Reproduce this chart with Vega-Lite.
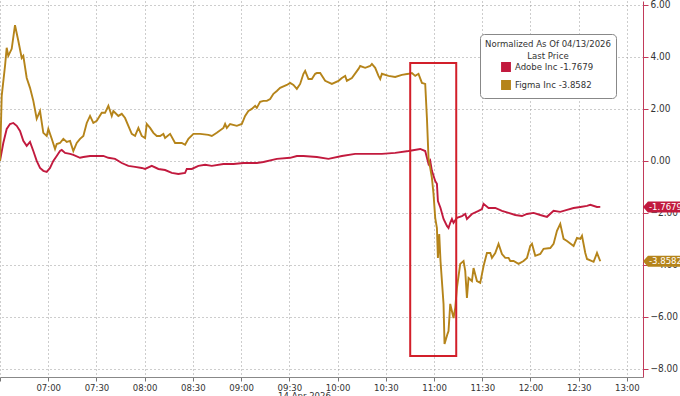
{
"width": 643,
"height": 376,
"autosize": "none",
"padding": {"left": 0, "top": 1, "right": 37, "bottom": 19},
"config": {"view": {"stroke": null}, "font": "DejaVu Sans Condensed, Liberation Sans Narrow, Liberation Sans, sans-serif"},
"data": {"format": {"parse": {"t": "date:'%H:%M:%S'"}}, "values": [
{"s":"Adobe Inc","t":"06:30:00","v":0},
{"s":"Adobe Inc","t":"06:32:03","v":0.69},
{"s":"Adobe Inc","t":"06:34:10","v":1.23},
{"s":"Adobe Inc","t":"06:36:13","v":1.42},
{"s":"Adobe Inc","t":"06:38:17","v":1.46},
{"s":"Adobe Inc","t":"06:40:24","v":1.35},
{"s":"Adobe Inc","t":"06:42:27","v":1.15},
{"s":"Adobe Inc","t":"06:44:30","v":0.77},
{"s":"Adobe Inc","t":"06:46:37","v":0.58},
{"s":"Adobe Inc","t":"06:48:40","v":0.73},
{"s":"Adobe Inc","t":"06:50:44","v":0.38},
{"s":"Adobe Inc","t":"06:52:50","v":0.00},
{"s":"Adobe Inc","t":"06:54:54","v":-0.27},
{"s":"Adobe Inc","t":"06:56:57","v":-0.38},
{"s":"Adobe Inc","t":"06:59:04","v":-0.42},
{"s":"Adobe Inc","t":"07:01:07","v":-0.27},
{"s":"Adobe Inc","t":"07:03:10","v":0.00},
{"s":"Adobe Inc","t":"07:05:17","v":0.19},
{"s":"Adobe Inc","t":"07:07:20","v":0.38},
{"s":"Adobe Inc","t":"07:08:24","v":0.42},
{"s":"Adobe Inc","t":"07:10:28","v":0.31},
{"s":"Adobe Inc","t":"07:13:34","v":0.27},
{"s":"Adobe Inc","t":"07:15:37","v":0.23},
{"s":"Adobe Inc","t":"07:19:47","v":0.12},
{"s":"Adobe Inc","t":"07:21:51","v":0.15},
{"s":"Adobe Inc","t":"07:26:01","v":0.19},
{"s":"Adobe Inc","t":"07:30:11","v":0.19},
{"s":"Adobe Inc","t":"07:34:17","v":0.19},
{"s":"Adobe Inc","t":"07:37:25","v":0.12},
{"s":"Adobe Inc","t":"07:41:35","v":0.08},
{"s":"Adobe Inc","t":"07:45:45","v":-0.08},
{"s":"Adobe Inc","t":"07:49:51","v":-0.19},
{"s":"Adobe Inc","t":"07:54:01","v":-0.23},
{"s":"Adobe Inc","t":"07:58:11","v":-0.27},
{"s":"Adobe Inc","t":"08:00:15","v":-0.31},
{"s":"Adobe Inc","t":"08:04:25","v":-0.19},
{"s":"Adobe Inc","t":"08:08:32","v":-0.31},
{"s":"Adobe Inc","t":"08:12:42","v":-0.35},
{"s":"Adobe Inc","t":"08:16:52","v":-0.46},
{"s":"Adobe Inc","t":"08:20:58","v":-0.50},
{"s":"Adobe Inc","t":"08:25:08","v":-0.46},
{"s":"Adobe Inc","t":"08:26:12","v":-0.31},
{"s":"Adobe Inc","t":"08:29:19","v":-0.31},
{"s":"Adobe Inc","t":"08:33:25","v":-0.19},
{"s":"Adobe Inc","t":"08:37:35","v":-0.15},
{"s":"Adobe Inc","t":"08:41:46","v":-0.19},
{"s":"Adobe Inc","t":"08:48:59","v":-0.12},
{"s":"Adobe Inc","t":"08:55:13","v":-0.12},
{"s":"Adobe Inc","t":"09:01:26","v":-0.08},
{"s":"Adobe Inc","t":"09:09:46","v":-0.08},
{"s":"Adobe Inc","t":"09:13:53","v":-0.04},
{"s":"Adobe Inc","t":"09:22:13","v":0.08},
{"s":"Adobe Inc","t":"09:30:30","v":0.12},
{"s":"Adobe Inc","t":"09:34:40","v":0.19},
{"s":"Adobe Inc","t":"09:38:46","v":0.19},
{"s":"Adobe Inc","t":"09:47:07","v":0.15},
{"s":"Adobe Inc","t":"09:54:20","v":0.08},
{"s":"Adobe Inc","t":"10:02:40","v":0.19},
{"s":"Adobe Inc","t":"10:10:57","v":0.27},
{"s":"Adobe Inc","t":"10:19:14","v":0.27},
{"s":"Adobe Inc","t":"10:27:34","v":0.27},
{"s":"Adobe Inc","t":"10:35:51","v":0.31},
{"s":"Adobe Inc","t":"10:44:08","v":0.38},
{"s":"Adobe Inc","t":"10:51:25","v":0.46},
{"s":"Adobe Inc","t":"10:54:31","v":0.38},
{"s":"Adobe Inc","t":"10:55:35","v":0.12},
{"s":"Adobe Inc","t":"10:56:34","v":-0.12},
{"s":"Adobe Inc","t":"10:57:38","v":0.00},
{"s":"Adobe Inc","t":"10:58:41","v":-0.38},
{"s":"Adobe Inc","t":"11:00:44","v":-0.77},
{"s":"Adobe Inc","t":"11:01:48","v":-0.88},
{"s":"Adobe Inc","t":"11:02:25","v":-1.54},
{"s":"Adobe Inc","t":"11:04:02","v":-1.81},
{"s":"Adobe Inc","t":"11:05:55","v":-2.23},
{"s":"Adobe Inc","t":"11:08:02","v":-2.50},
{"s":"Adobe Inc","t":"11:09:01","v":-2.58},
{"s":"Adobe Inc","t":"11:10:05","v":-2.38},
{"s":"Adobe Inc","t":"11:11:08","v":-2.23},
{"s":"Adobe Inc","t":"11:12:08","v":-2.38},
{"s":"Adobe Inc","t":"11:14:15","v":-2.19},
{"s":"Adobe Inc","t":"11:17:22","v":-2.12},
{"s":"Adobe Inc","t":"11:19:25","v":-2.04},
{"s":"Adobe Inc","t":"11:20:28","v":-2.23},
{"s":"Adobe Inc","t":"11:23:35","v":-2.04},
{"s":"Adobe Inc","t":"11:27:41","v":-1.92},
{"s":"Adobe Inc","t":"11:29:49","v":-1.85},
{"s":"Adobe Inc","t":"11:30:49","v":-1.65},
{"s":"Adobe Inc","t":"11:33:55","v":-1.81},
{"s":"Adobe Inc","t":"11:38:05","v":-1.81},
{"s":"Adobe Inc","t":"11:42:16","v":-1.92},
{"s":"Adobe Inc","t":"11:46:22","v":-2.00},
{"s":"Adobe Inc","t":"11:50:32","v":-2.08},
{"s":"Adobe Inc","t":"11:54:42","v":-2.12},
{"s":"Adobe Inc","t":"11:57:49","v":-2.04},
{"s":"Adobe Inc","t":"12:01:56","v":-2.00},
{"s":"Adobe Inc","t":"12:06:06","v":-2.08},
{"s":"Adobe Inc","t":"12:10:16","v":-2.15},
{"s":"Adobe Inc","t":"12:14:22","v":-1.92},
{"s":"Adobe Inc","t":"12:18:32","v":-1.96},
{"s":"Adobe Inc","t":"12:22:43","v":-1.88},
{"s":"Adobe Inc","t":"12:26:49","v":-1.81},
{"s":"Adobe Inc","t":"12:31:00","v":-1.77},
{"s":"Adobe Inc","t":"12:35:10","v":-1.73},
{"s":"Adobe Inc","t":"12:37:13","v":-1.69},
{"s":"Adobe Inc","t":"12:41:23","v":-1.77},
{"s":"Adobe Inc","t":"12:43:26","v":-1.7679},
{"s":"Figma Inc","t":"06:30:00","v":0},
{"s":"Figma Inc","t":"06:31:04","v":2.50},
{"s":"Figma Inc","t":"06:33:07","v":3.65},
{"s":"Figma Inc","t":"06:34:10","v":4.35},
{"s":"Figma Inc","t":"06:35:10","v":4.04},
{"s":"Figma Inc","t":"06:37:17","v":4.31},
{"s":"Figma Inc","t":"06:39:20","v":5.22},
{"s":"Figma Inc","t":"06:41:23","v":4.62},
{"s":"Figma Inc","t":"06:43:30","v":3.96},
{"s":"Figma Inc","t":"06:44:30","v":4.04},
{"s":"Figma Inc","t":"06:46:37","v":3.19},
{"s":"Figma Inc","t":"06:48:40","v":2.81},
{"s":"Figma Inc","t":"06:50:44","v":2.31},
{"s":"Figma Inc","t":"06:52:50","v":1.62},
{"s":"Figma Inc","t":"06:54:54","v":1.92},
{"s":"Figma Inc","t":"06:56:57","v":1.08},
{"s":"Figma Inc","t":"06:59:04","v":0.96},
{"s":"Figma Inc","t":"07:00:04","v":1.23},
{"s":"Figma Inc","t":"07:02:11","v":0.85},
{"s":"Figma Inc","t":"07:04:14","v":0.46},
{"s":"Figma Inc","t":"07:05:17","v":0.65},
{"s":"Figma Inc","t":"07:07:20","v":0.69},
{"s":"Figma Inc","t":"07:09:24","v":0.85},
{"s":"Figma Inc","t":"07:11:31","v":0.73},
{"s":"Figma Inc","t":"07:13:34","v":0.77},
{"s":"Figma Inc","t":"07:15:37","v":0.38},
{"s":"Figma Inc","t":"07:17:44","v":0.69},
{"s":"Figma Inc","t":"07:19:47","v":0.85},
{"s":"Figma Inc","t":"07:21:51","v":0.96},
{"s":"Figma Inc","t":"07:23:58","v":1.46},
{"s":"Figma Inc","t":"07:26:01","v":1.73},
{"s":"Figma Inc","t":"07:28:04","v":1.46},
{"s":"Figma Inc","t":"07:30:11","v":1.54},
{"s":"Figma Inc","t":"07:33:18","v":1.85},
{"s":"Figma Inc","t":"07:35:21","v":1.85},
{"s":"Figma Inc","t":"07:37:25","v":2.12},
{"s":"Figma Inc","t":"07:39:31","v":1.73},
{"s":"Figma Inc","t":"07:40:31","v":1.92},
{"s":"Figma Inc","t":"07:43:38","v":1.73},
{"s":"Figma Inc","t":"07:45:45","v":1.81},
{"s":"Figma Inc","t":"07:47:48","v":1.65},
{"s":"Figma Inc","t":"07:49:51","v":1.35},
{"s":"Figma Inc","t":"07:51:58","v":1.04},
{"s":"Figma Inc","t":"07:54:01","v":0.96},
{"s":"Figma Inc","t":"07:56:05","v":1.27},
{"s":"Figma Inc","t":"07:58:11","v":0.96},
{"s":"Figma Inc","t":"08:00:15","v":0.88},
{"s":"Figma Inc","t":"08:01:18","v":1.42},
{"s":"Figma Inc","t":"08:03:22","v":1.27},
{"s":"Figma Inc","t":"08:05:25","v":1.08},
{"s":"Figma Inc","t":"08:07:32","v":0.96},
{"s":"Figma Inc","t":"08:09:35","v":0.96},
{"s":"Figma Inc","t":"08:11:38","v":1.04},
{"s":"Figma Inc","t":"08:12:42","v":0.88},
{"s":"Figma Inc","t":"08:15:49","v":1.04},
{"s":"Figma Inc","t":"08:18:55","v":0.69},
{"s":"Figma Inc","t":"08:20:58","v":0.69},
{"s":"Figma Inc","t":"08:23:05","v":0.69},
{"s":"Figma Inc","t":"08:25:08","v":0.62},
{"s":"Figma Inc","t":"08:27:12","v":0.85},
{"s":"Figma Inc","t":"08:30:19","v":1.04},
{"s":"Figma Inc","t":"08:34:29","v":1.04},
{"s":"Figma Inc","t":"08:39:39","v":1.00},
{"s":"Figma Inc","t":"08:41:46","v":0.96},
{"s":"Figma Inc","t":"08:44:52","v":1.08},
{"s":"Figma Inc","t":"08:48:59","v":1.27},
{"s":"Figma Inc","t":"08:50:02","v":1.42},
{"s":"Figma Inc","t":"08:51:06","v":1.27},
{"s":"Figma Inc","t":"08:53:09","v":1.42},
{"s":"Figma Inc","t":"08:57:19","v":1.35},
{"s":"Figma Inc","t":"09:00:26","v":1.42},
{"s":"Figma Inc","t":"09:02:29","v":1.73},
{"s":"Figma Inc","t":"09:04:32","v":1.92},
{"s":"Figma Inc","t":"09:06:40","v":2.00},
{"s":"Figma Inc","t":"09:08:43","v":2.12},
{"s":"Figma Inc","t":"09:09:46","v":2.04},
{"s":"Figma Inc","t":"09:11:49","v":2.27},
{"s":"Figma Inc","t":"09:13:53","v":2.31},
{"s":"Figma Inc","t":"09:16:00","v":2.31},
{"s":"Figma Inc","t":"09:18:03","v":2.38},
{"s":"Figma Inc","t":"09:20:06","v":2.58},
{"s":"Figma Inc","t":"09:22:13","v":2.69},
{"s":"Figma Inc","t":"09:24:16","v":2.81},
{"s":"Figma Inc","t":"09:28:26","v":2.92},
{"s":"Figma Inc","t":"09:30:30","v":3.00},
{"s":"Figma Inc","t":"09:32:33","v":2.92},
{"s":"Figma Inc","t":"09:34:40","v":2.77},
{"s":"Figma Inc","t":"09:36:43","v":2.96},
{"s":"Figma Inc","t":"09:38:46","v":3.35},
{"s":"Figma Inc","t":"09:39:50","v":3.46},
{"s":"Figma Inc","t":"09:41:53","v":3.15},
{"s":"Figma Inc","t":"09:44:00","v":3.15},
{"s":"Figma Inc","t":"09:46:04","v":3.35},
{"s":"Figma Inc","t":"09:47:07","v":3.38},
{"s":"Figma Inc","t":"09:49:10","v":3.38},
{"s":"Figma Inc","t":"09:52:17","v":3.08},
{"s":"Figma Inc","t":"09:56:27","v":2.96},
{"s":"Figma Inc","t":"10:00:34","v":3.08},
{"s":"Figma Inc","t":"10:02:40","v":3.19},
{"s":"Figma Inc","t":"10:04:44","v":3.27},
{"s":"Figma Inc","t":"10:05:47","v":3.08},
{"s":"Figma Inc","t":"10:08:54","v":3.19},
{"s":"Figma Inc","t":"10:13:01","v":3.54},
{"s":"Figma Inc","t":"10:14:04","v":3.65},
{"s":"Figma Inc","t":"10:17:11","v":3.58},
{"s":"Figma Inc","t":"10:20:17","v":3.65},
{"s":"Figma Inc","t":"10:21:21","v":3.73},
{"s":"Figma Inc","t":"10:23:24","v":3.58},
{"s":"Figma Inc","t":"10:25:27","v":3.27},
{"s":"Figma Inc","t":"10:26:31","v":3.15},
{"s":"Figma Inc","t":"10:27:34","v":3.35},
{"s":"Figma Inc","t":"10:31:41","v":3.27},
{"s":"Figma Inc","t":"10:35:51","v":3.23},
{"s":"Figma Inc","t":"10:40:01","v":3.31},
{"s":"Figma Inc","t":"10:44:08","v":3.35},
{"s":"Figma Inc","t":"10:46:14","v":3.38},
{"s":"Figma Inc","t":"10:48:18","v":3.27},
{"s":"Figma Inc","t":"10:50:21","v":3.35},
{"s":"Figma Inc","t":"10:52:28","v":3.00},
{"s":"Figma Inc","t":"10:54:31","v":2.96},
{"s":"Figma Inc","t":"10:55:35","v":1.65},
{"s":"Figma Inc","t":"10:56:34","v":0.12},
{"s":"Figma Inc","t":"10:58:41","v":-0.65},
{"s":"Figma Inc","t":"10:59:41","v":-1.27},
{"s":"Figma Inc","t":"11:00:44","v":-2.19},
{"s":"Figma Inc","t":"11:01:48","v":-2.58},
{"s":"Figma Inc","t":"11:02:25","v":-3.73},
{"s":"Figma Inc","t":"11:03:14","v":-2.81},
{"s":"Figma Inc","t":"11:04:02","v":-3.85},
{"s":"Figma Inc","t":"11:05:55","v":-5.50},
{"s":"Figma Inc","t":"11:06:32","v":-7.04},
{"s":"Figma Inc","t":"11:08:24","v":-6.65},
{"s":"Figma Inc","t":"11:09:01","v":-6.54},
{"s":"Figma Inc","t":"11:10:05","v":-5.50},
{"s":"Figma Inc","t":"11:12:08","v":-6.04},
{"s":"Figma Inc","t":"11:13:11","v":-5.65},
{"s":"Figma Inc","t":"11:14:15","v":-4.88},
{"s":"Figma Inc","t":"11:16:18","v":-3.96},
{"s":"Figma Inc","t":"11:18:22","v":-3.85},
{"s":"Figma Inc","t":"11:19:25","v":-4.23},
{"s":"Figma Inc","t":"11:20:28","v":-5.27},
{"s":"Figma Inc","t":"11:21:28","v":-4.50},
{"s":"Figma Inc","t":"11:23:35","v":-4.62},
{"s":"Figma Inc","t":"11:24:35","v":-4.12},
{"s":"Figma Inc","t":"11:26:42","v":-4.62},
{"s":"Figma Inc","t":"11:28:45","v":-4.69},
{"s":"Figma Inc","t":"11:30:49","v":-4.04},
{"s":"Figma Inc","t":"11:32:55","v":-3.54},
{"s":"Figma Inc","t":"11:34:59","v":-3.54},
{"s":"Figma Inc","t":"11:36:02","v":-3.73},
{"s":"Figma Inc","t":"11:38:05","v":-3.54},
{"s":"Figma Inc","t":"11:40:08","v":-3.19},
{"s":"Figma Inc","t":"11:42:16","v":-3.58},
{"s":"Figma Inc","t":"11:44:19","v":-3.73},
{"s":"Figma Inc","t":"11:46:22","v":-3.73},
{"s":"Figma Inc","t":"11:47:25","v":-3.85},
{"s":"Figma Inc","t":"11:49:29","v":-3.85},
{"s":"Figma Inc","t":"11:52:35","v":-3.96},
{"s":"Figma Inc","t":"11:55:42","v":-3.85},
{"s":"Figma Inc","t":"11:57:49","v":-3.73},
{"s":"Figma Inc","t":"11:59:52","v":-3.27},
{"s":"Figma Inc","t":"12:00:56","v":-3.19},
{"s":"Figma Inc","t":"12:02:59","v":-3.65},
{"s":"Figma Inc","t":"12:06:06","v":-3.58},
{"s":"Figma Inc","t":"12:08:09","v":-3.38},
{"s":"Figma Inc","t":"12:12:19","v":-3.35},
{"s":"Figma Inc","t":"12:14:22","v":-3.19},
{"s":"Figma Inc","t":"12:16:29","v":-2.69},
{"s":"Figma Inc","t":"12:18:32","v":-2.42},
{"s":"Figma Inc","t":"12:20:36","v":-3.00},
{"s":"Figma Inc","t":"12:22:43","v":-3.08},
{"s":"Figma Inc","t":"12:26:49","v":-3.27},
{"s":"Figma Inc","t":"12:28:56","v":-2.96},
{"s":"Figma Inc","t":"12:31:00","v":-3.00},
{"s":"Figma Inc","t":"12:32:03","v":-2.88},
{"s":"Figma Inc","t":"12:34:06","v":-3.54},
{"s":"Figma Inc","t":"12:35:10","v":-3.77},
{"s":"Figma Inc","t":"12:39:16","v":-3.88},
{"s":"Figma Inc","t":"12:41:23","v":-3.54},
{"s":"Figma Inc","t":"12:43:26","v":-3.8582}
]},
"layer": [
{
  "mark": {"type": "line", "strokeWidth": 1.9},
  "encoding": {
    "x": {"field": "t", "type": "temporal",
      "scale": {"domain": [{"year":1900,"month":1,"date":1,"hours":6,"minutes":30},{"year":1900,"month":1,"date":1,"hours":13,"minutes":10}]},
      "axis": {
        "title": "14 Apr 2026", "titleFontSize": 9.5, "titleFontWeight": "normal", "titleColor": "#333", "titlePadding": -1, "titleX": 304,
        "labelExpr": "hours(datum.value) == 6 ? '' : timeFormat(datum.value, '%H:%M')",
        "labelOverlap": false, "labelFlush": false, "labelFontSize": 9.5, "labelColor": "#333", "labelPadding": 1,
        "grid": true, "gridDash": [1, 3], "gridColor": "#9a9a9a",
        "tickSize": 4, "tickColor": "#777", "domainColor": "#888"
      }},
    "y": {"field": "v", "type": "quantitative",
      "scale": {"domain": [-8.31, 6.15], "nice": false, "zero": false},
      "axis": {
        "orient": "right", "title": null,
        "values": [-8,-6,-4,-2,0,2,4,6],
        "format": ".2f",
        "labelFontSize": 10, "labelColor": "#333", "labelPadding": 2,
        "grid": true, "gridDash": [1, 3], "gridColor": "#9a9a9a",
        "tickSize": 5, "tickColor": "#c23a5a", "domainColor": "#c23a5a"
      }},
    "color": {"field": "s", "type": "nominal",
      "scale": {"domain": ["Adobe Inc", "Figma Inc"], "range": ["#c21a3e", "#b5841a"]},
      "legend": {
        "orient": "none", "legendX": 480, "legendY": 33,
        "title": ["Normalized As Of 04/13/2026", "Last Price"],
        "titleAnchor": "middle", "titleAlign": "center", "titlePadding": 2,
        "titleFontSize": 9.5, "titleFontWeight": "normal", "titleColor": "#333",
        "labelExpr": "datum.label == 'Adobe Inc' ? 'Adobe Inc  -1.7679' : 'Figma Inc  -3.8582'",
        "labelFontSize": 9.5, "labelColor": "#333",
        "symbolType": "square", "symbolSize": 70,
        "encode": {"symbols": {"update": {"fill": {"scale": "color", "field": "value"}, "fillOpacity": {"value": 1}}}},
        "fillColor": "white", "strokeColor": "#888", "cornerRadius": 4, "padding": 5
      }}
  }
},
{
  "data": {"format": {"parse": {"t": "date:'%H:%M:%S'", "t2": "date:'%H:%M:%S'"}}, "values": [{"t":"10:45:11","t2":"11:13:49","v":3.77,"v2":-7.5}]},
  "mark": {"type": "rect", "fill": "transparent", "stroke": "#d21f2a", "strokeWidth": 2},
  "encoding": {
    "x": {"field": "t", "type": "temporal"},
    "x2": {"field": "t2"},
    "y": {"field": "v", "type": "quantitative"},
    "y2": {"field": "v2"}
  }
},
{
  "data": {"format": {"parse": {"t": "date:'%H:%M:%S'"}}, "values": [
    {"s":"Adobe Inc","t":"13:10:00","v":-1.7679,"label":"-1.7679"},
    {"s":"Figma Inc","t":"13:10:00","v":-3.8582,"label":"-3.8582"}]},
  "layer": [
    {
      "mark": {"type": "point", "shape": "M0,0L0.9,-1L9,-1L9,1L0.9,1Z", "size": 121, "filled": true, "opacity": 1},
      "encoding": {
        "x": {"field": "t", "type": "temporal"},
        "y": {"field": "v", "type": "quantitative"},
        "fill": {"field": "s", "type": "nominal", "scale": {"domain": ["Adobe Inc", "Figma Inc"], "range": ["#c21a3e", "#b5841a"]}, "legend": null}
      }
    },
    {
      "mark": {"type": "text", "align": "left", "baseline": "middle", "dx": 6, "color": "white", "fontSize": 9.5},
      "encoding": {
        "x": {"field": "t", "type": "temporal"},
        "y": {"field": "v", "type": "quantitative"},
        "text": {"field": "label"}
      }
    }
  ]
}
]
}
